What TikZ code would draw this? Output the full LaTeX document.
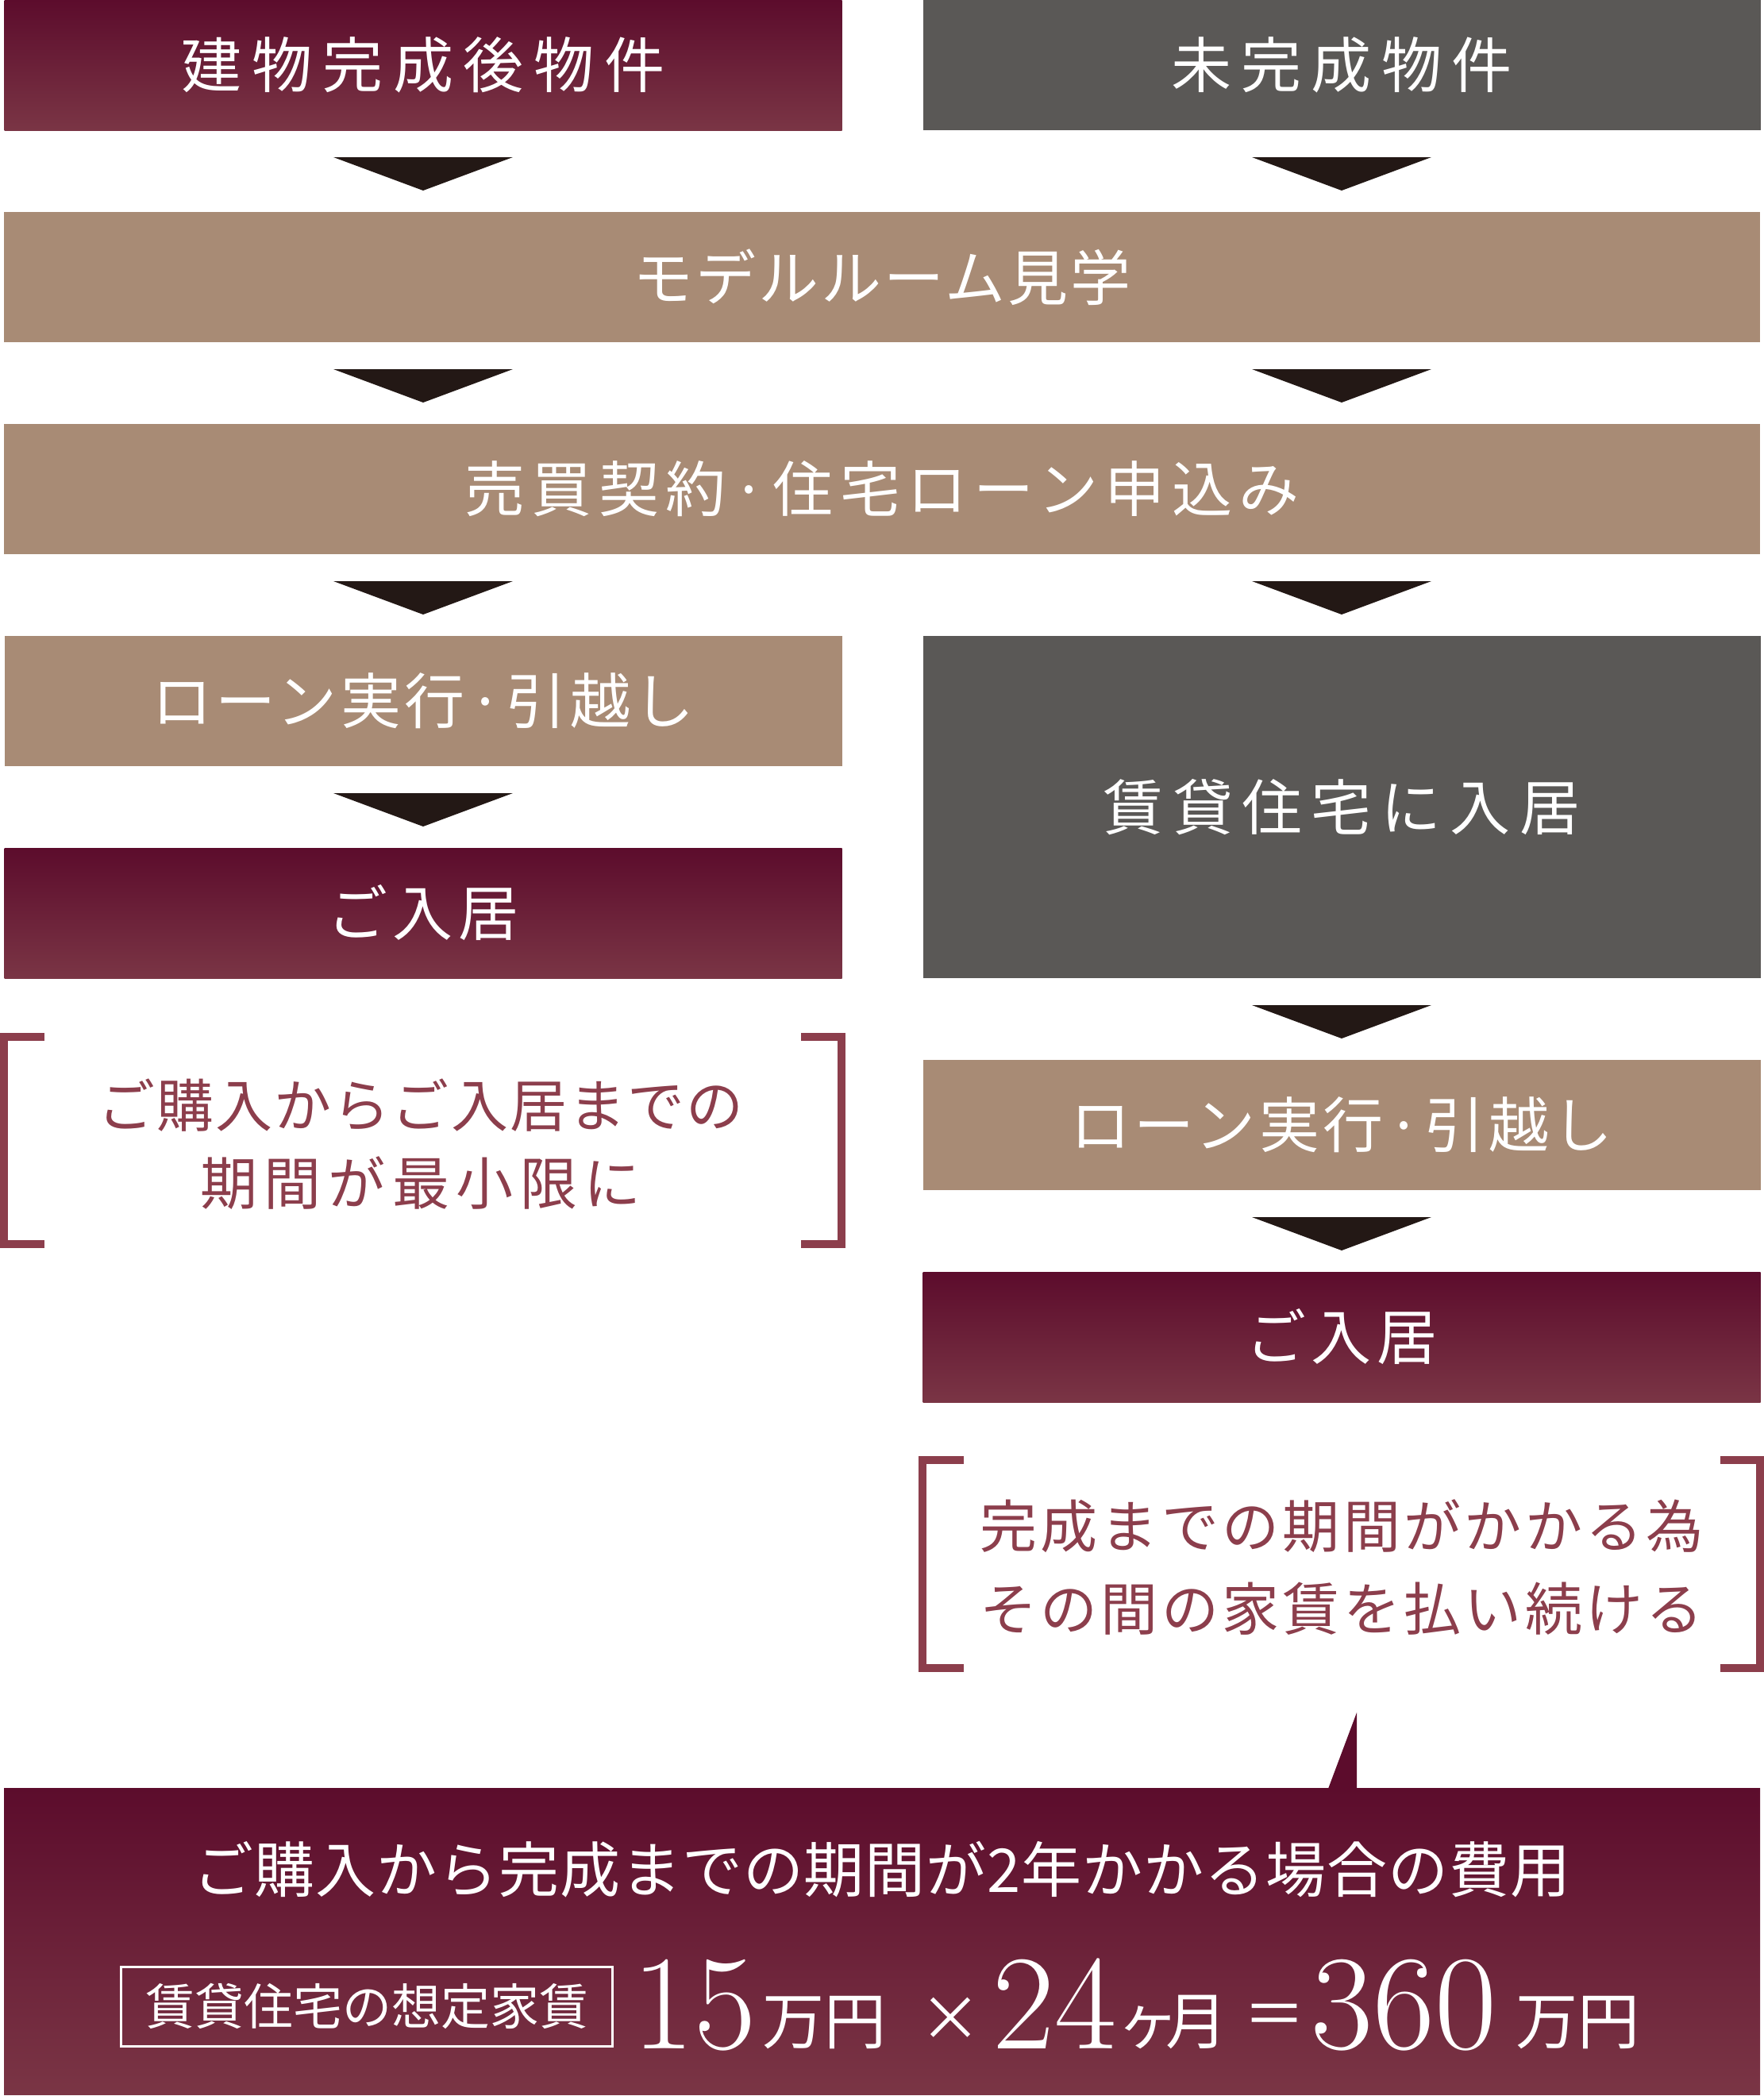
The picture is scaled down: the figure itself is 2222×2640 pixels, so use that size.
\documentclass[tikz,border=0pt]{standalone}
\usepackage{fontspec}
\usepackage{graphicx}
\newfontfamily\jp{Noto Sans CJK JP}
\definecolor{wineTop}{HTML}{5C0C2C}
\definecolor{wineBot}{HTML}{7A3545}
\definecolor{sand}{HTML}{A88B75}
\definecolor{stone}{HTML}{5A5856}
\definecolor{tipInk}{HTML}{231815}
\definecolor{rose}{HTML}{8C3E4C}
\newcommand{\jpsize}[2]{\jp\fontsize{#1}{#2}\selectfont}

\begin{document}
\begin{tikzpicture}[x=1pt,y=-1pt,
   stepbox/.style={minimum height=164pt,inner sep=0pt,text=white},
   spaced/.style={font=\jpsize{76}{76}\addfontfeature{LetterSpace=#1}},
   half/.style={stepbox,minimum width=1055pt},
   full/.style={stepbox,minimum width=2212pt},
   wine/.style={top color=wineTop,bottom color=wineBot},
   sandbox/.style={fill=sand},
   stonebox/.style={fill=stone},
   note/.style={align=center,text=rose,inner sep=0pt},
   bracket/.style={draw=rose,line width=10pt},
   num/.style={text=white,inner sep=0pt,font=\fontsize{170}{170}\selectfont},
   unit/.style={text=white,inner sep=0pt,font=\jpsize{78}{78}}]
   \useasboundingbox (0,0) rectangle (2222,2640);
   % boxes of the two columns
   \node[half,wine,spaced=17] (built) at (533,82) {建物完成後物件};
   \node[half,stonebox,spaced=16] (unbuilt) at (1690,82) {未完成物件};
   \node[full,sandbox,spaced=4] (model) at (1111,349) {モデルルーム見学};
   \node[full,sandbox,spaced=11] (contract) at (1111,616) {売買契約·住宅ローン申込み};
   \node[half,sandbox,spaced=6] (loanL) at (533,883) {ローン実行·引越し};
   \node[half,stonebox,minimum height=431pt,spaced=15] (rent) at (1690,1016.5) {賃貸住宅に入居};
   \node[half,wine,spaced=8] (moveL) at (533,1150) {ご入居};
   \node[half,sandbox,spaced=6] (loanR) at (1690,1417) {ローン実行·引越し};
   \node[half,wine,spaced=8] (moveR) at (1690,1684) {ご入居};
   % down triangles
   \foreach \x/\y in {533/198,1690/198,533/465,1690/465,533/732,1690/732,
                      533/999,1690/1266,1690/1533} {
    \fill[tipInk] (\x-113,\y) -- (\x+113,\y) -- (\x,\y+42) -- cycle;
   }
   % brackets and notes
   \draw[bracket] (56,1306) -- (5,1306) -- (5,1567) -- (56,1567);
   \draw[bracket] (1009,1306) -- (1060,1306) -- (1060,1567) -- (1009,1567);
   \node[note,font=\jpsize{72}{98}\addfontfeature{LetterSpace=3}] (noteL) at (530,1441)
     {ご購入からご入居までの\\{\addfontfeature{LetterSpace=12}期間が最小限に}};
   \draw[bracket] (1214,1839) -- (1162,1839) -- (1162,2101) -- (1214,2101);
   \draw[bracket] (2167,1839) -- (2217,1839) -- (2217,2101) -- (2167,2101);
   \node[note,font=\jpsize{72}{104}\addfontfeature{LetterSpace=6}] (noteR) at (1690,1974)
     {完成までの期間がかかる為\\その間の家賃を払い続ける};
   % cost box
   \fill[wineTop] (1709,2157) -- (1673,2253) -- (1709,2253) -- cycle;
   \node[wine,minimum width=2212pt,minimum height=386pt,inner sep=0pt] (cost) at (1111,2445) {};
   \node[text=white,inner sep=0pt,font=\jpsize{76}{76}\addfontfeature{LetterSpace=1.2}] (costTitle) at (1111,2355)
     {ご購入から完成までの期間が2年かかる場合の費用};
   \node[draw=white,line width=3pt,minimum width=619pt,minimum height=100pt,inner sep=0pt,
     text=white,font=\jpsize{62}{62}] (rentTag) at (462,2527) {賃貸住宅の想定家賃};
   \node[num,anchor=base west] (fee) at (796,2580) {15};
   \node[unit,anchor=base west] (feeUnit) at (960,2574) {万円};
   \node[unit] (times) at (1197,2543) {×};
   \node[num,anchor=base west] (months) at (1250,2580) {24};
   \node[unit,anchor=base] (ka) at (1446,2574) {ヶ};
   \node[unit,anchor=base west] (month) at (1468,2574) {月};
   \node[unit] (equals) at (1605,2545) {＝};
   \node[num,anchor=base west] (total) at (1651,2580) {360};
   \node[unit,anchor=base west] (totalUnit) at (1909,2574) {万円};
\end{tikzpicture}
\end{document}
